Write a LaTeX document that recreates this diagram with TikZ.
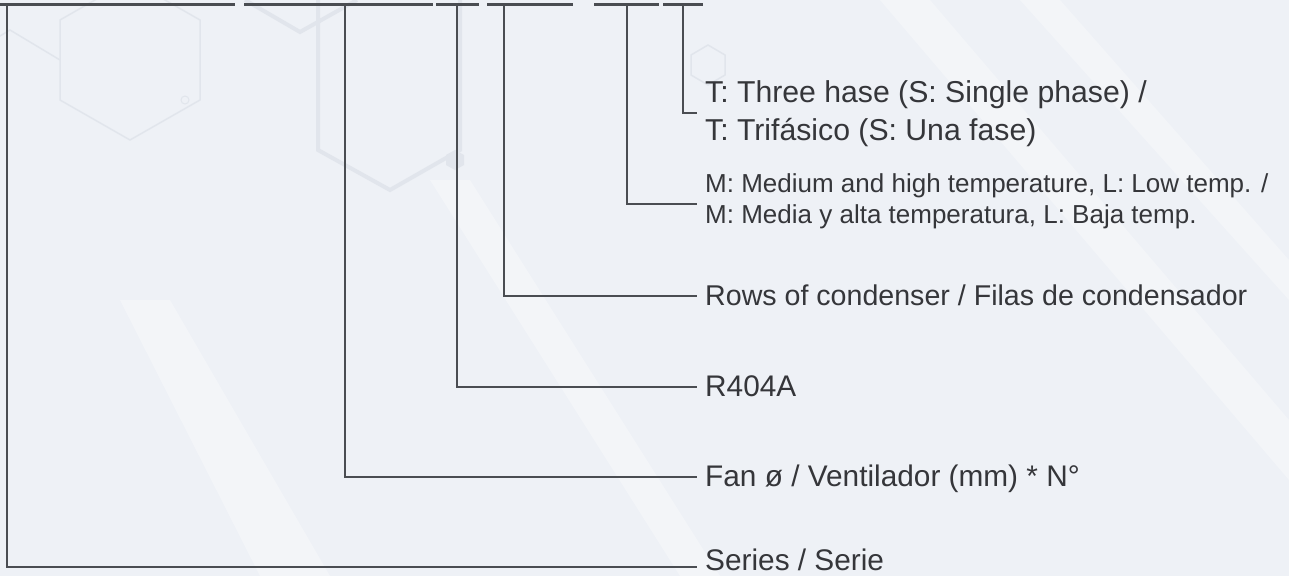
\documentclass[tikz,border=0pt]{standalone}
\usepackage{fontspec}
\setmainfont{Liberation Sans}
\definecolor{bgc}{HTML}{EEF1F6}
\definecolor{linec}{HTML}{4A4D52}
\definecolor{txtc}{HTML}{35363A}
\definecolor{hexc}{HTML}{E1E5EC}
\begin{document}
\begin{tikzpicture}[x=1pt,y=-1pt,
  lead/.style={draw=linec, line width=2.8pt},
  lbl/.style={anchor=base west, inner sep=0pt, text=txtc, font=\fontsize{29.8}{32}\selectfont},
  lbls/.style={lbl, font=\fontsize{26}{28}\selectfont},
  hex/.style={draw=hexc, line width=1.5pt},
  streak/.style={fill=white, opacity=0.3}]
\fill[bgc] (0,0) rectangle (1289,576);
\useasboundingbox (0,0) rectangle (1289,576);
% background streaks
\fill[streak] (120,300) -- (170,300) -- (330,576) -- (260,576) -- cycle;
\fill[streak] (430,180) -- (470,180) -- (720,576) -- (680,576) -- cycle;
\fill[streak] (880,0) -- (930,0) -- (1289,420) -- (1289,480) -- cycle;
\fill[streak] (1020,0) -- (1060,0) -- (1289,260) -- (1289,300) -- cycle;
% background hexagons
\draw[hex] (130,-20) -- ++(70,40) -- ++(0,80) -- ++(-70,40) -- ++(-70,-40) -- ++(0,-80) -- cycle;
\draw[hex] (-40,60) -- ++(50,-30) -- ++(50,30);
\draw[hex, line width=4pt] (245,0) -- (300,32) -- (357,0);
\draw[hex, line width=4pt] (318,0) -- (318,150) -- (390,190) -- (460,150) -- (460,0);
\draw[hex] (708,45) -- ++(17,10) -- ++(0,20) -- ++(-17,10) -- ++(-17,-10) -- ++(0,-20) -- cycle;
\fill[hexc] (455,150) -- ++(9,5) -- ++(0,10) -- ++(-9,5) -- ++(-9,-5) -- ++(0,-10) -- cycle;
\draw[hex, line width=1pt] (185,100) circle (4);
% top code segments
\draw[lead] (0,4.5) -- (235,4.5);
\draw[lead] (244,4.5) -- (433,4.5);
\draw[lead] (436,4.5) -- (479,4.5);
\draw[lead] (487,4.5) -- (573,4.5);
\draw[lead] (594,4.5) -- (659,4.5);
\draw[lead] (663,4.5) -- (703,4.5);
% top anchor points
\coordinate (tS) at (7,4.5);
\coordinate (tF) at (345,4.5);
\coordinate (tR) at (457,4.5);
\coordinate (tW) at (504,4.5);
\coordinate (tM) at (627,4.5);
\coordinate (tT) at (683,4.5);
% end points of leaders
\coordinate (eT) at (697,113);
\coordinate (eM) at (697,204);
\coordinate (eW) at (697,296);
\coordinate (eR) at (697,387);
\coordinate (eF) at (697,477);
\coordinate (eS) at (697,567);
% labels
\node[lbl, font=\fontsize{30.2}{32}\selectfont] (T1) at (705,102) {T: Three hase (S: Single phase) /};
\node[lbl, font=\fontsize{30.2}{32}\selectfont] (T2) at (705,140) {T: Trifásico (S: Una fase)};
\node[lbls] (M1) at (705,192) {M: Medium and high temperature, L: Low temp. /};
\node[lbls] (M2) at (705,223) {M: Media y alta temperatura, L: Baja temp.};
\node[lbl, font=\fontsize{28.6}{32}\selectfont] (W) at (705,305) {Rows of condenser / Filas de condensador};
\node[lbl] (R) at (705,396) {R404A};
\node[lbl] (F) at (705,486) {Fan ø / Ventilador (mm) * N°};
\node[lbl] (S) at (705,570) {Series / Serie};
% leaders
\draw[lead] (tT) |- (eT);
\draw[lead] (tM) |- (eM);
\draw[lead] (tW) |- (eW);
\draw[lead] (tR) |- (eR);
\draw[lead] (tF) |- (eF);
\draw[lead] (tS) |- (eS);
\end{tikzpicture}
\end{document}
